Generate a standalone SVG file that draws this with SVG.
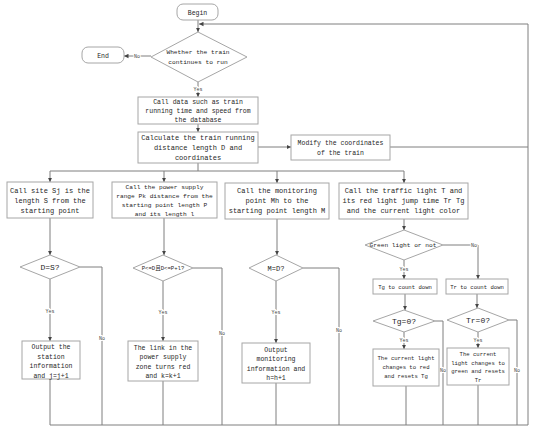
<svg xmlns="http://www.w3.org/2000/svg" width="534" height="433" viewBox="0 0 534 433">
<style>
.box{fill:#fff;stroke:#a6a6a6;stroke-width:1}
.rnd{fill:#fff;stroke:#a6a6a6;stroke-width:1}
.dia{fill:#fff;stroke:#a6a6a6;stroke-width:1}
.ln{fill:none;stroke:#7f7f7f;stroke-width:1}
.arr{marker-end:url(#ah)}
text{font-family:"Liberation Mono","Noto Sans CJK SC",monospace;fill:#262626;text-anchor:middle}
.t7{font-size:7px}
.t65{font-size:6.5px}
.t6{font-size:6.2px}
.t56{font-size:5.6px}
.t8{font-size:8px}
.lb{font-size:5px;fill:#444;stroke:#fff;stroke-width:2;paint-order:stroke}
</style>
<defs>
<marker id="ah" markerWidth="5" markerHeight="5" refX="4.5" refY="2.5" orient="auto" markerUnits="userSpaceOnUse">
<path d="M0,0.3 L4.5,2.5 L0,4.7 Z" fill="#444"/>
</marker>
</defs>
<rect width="534" height="433" fill="#fff"/>
<g id="connectors">
<path class="ln arr" d="M198,20 V32"/>
<path class="ln arr" d="M528,425 V24 H199"/>
<path class="ln arr" d="M151,56 H124"/>
<text class="lb" x="137" y="58">No</text>
<path class="ln arr" d="M198,82 V97"/>
<text class="lb" x="198" y="91">Yes</text>
<path class="ln arr" d="M198,124 V132"/>
<path class="ln arr" d="M258,147 H291"/>
<path class="ln" d="M390,147 H528"/>
<path class="ln" d="M198,163 V171"/>
<path class="ln" d="M50,171 H404"/>
<path class="ln arr" d="M50,171 V182"/>
<path class="ln arr" d="M164,171 V182"/>
<path class="ln arr" d="M277,171 V183"/>
<path class="ln arr" d="M404,171 V183"/>
<!-- branch 1 -->
<path class="ln arr" d="M50,218 V255"/>
<path class="ln" d="M80,267 H102 V425"/>
<text class="lb" x="102" y="340">No</text>
<path class="ln arr" d="M50,279 V341"/>
<text class="lb" x="50" y="313">Yes</text>
<path class="ln" d="M50,379 V425"/>
<!-- branch 2 -->
<path class="ln arr" d="M164,218 V255"/>
<path class="ln" d="M193,268 H222 V425"/>
<text class="lb" x="222" y="335">No</text>
<path class="ln arr" d="M163,281 V341"/>
<text class="lb" x="163" y="314">Yes</text>
<path class="ln" d="M163,381 V425"/>
<!-- branch 3 -->
<path class="ln arr" d="M277,219 V255"/>
<path class="ln" d="M303,268 H339 V425"/>
<text class="lb" x="339" y="332">No</text>
<path class="ln arr" d="M276,281 V343"/>
<text class="lb" x="276" y="314">Yes</text>
<path class="ln" d="M276,383 V425"/>
<!-- branch 4 -->
<path class="ln arr" d="M404,219 V230"/>
<path class="ln arr" d="M443,245 H478 V279"/>
<text class="lb" x="474" y="247">No</text>
<path class="ln arr" d="M404,260 V279"/>
<text class="lb" x="404" y="271">Yes</text>
<path class="ln arr" d="M405,294 V310"/>
<path class="ln" d="M435,321 H443 V425"/>
<text class="lb" x="443" y="372">No</text>
<path class="ln arr" d="M404,332 V349"/>
<text class="lb" x="404" y="342">Yes</text>
<path class="ln" d="M406,386 V425"/>
<path class="ln arr" d="M477,294 V308"/>
<path class="ln" d="M509,320 H517 V425"/>
<text class="lb" x="517" y="372">No</text>
<path class="ln arr" d="M478,332 V348"/>
<text class="lb" x="478" y="342">Yes</text>
<path class="ln" d="M478,385 V425"/>
<path class="ln" d="M50,425 H528"/>
</g>
<g id="begin">
<rect class="rnd" x="177" y="4" width="41" height="16" rx="6"/>
<text class="t65" x="197.5" y="14.5">Begin</text>
</g>
<g id="end">
<rect class="rnd" x="82" y="47" width="42" height="16" rx="6"/>
<text class="t65" x="103" y="57.5">End</text>
</g>
<g id="continue">
<polygon class="dia" points="198,32 247,57 198,82 151,57"/>
<text class="t6" x="198" y="54">Whether the train</text>
<text class="t6" x="198" y="64">continues to run</text>
</g>
<g id="calldata">
<rect class="box" x="138" y="97" width="120" height="27"/>
<text class="t65" x="198" y="103.5">Call data such as train</text>
<text class="t65" x="198" y="112.5">running time and speed from</text>
<text class="t65" x="198" y="121.5">the database</text>
</g>
<g id="calculate">
<rect class="box" x="138" y="132" width="120" height="31"/>
<text class="t7" x="198" y="140">Calculate the train running</text>
<text class="t7" x="198" y="150">distance length D and</text>
<text class="t7" x="198" y="160">coordinates</text>
</g>
<g id="modify">
<rect class="box" x="291" y="135" width="99" height="25"/>
<text class="t65" x="340.5" y="145">Modify the coordinates</text>
<text class="t65" x="340.5" y="155">of the train</text>
</g>
<g id="site">
<rect class="box" x="7" y="182" width="86" height="36"/>
<text class="t7" x="50" y="193">Call site Sj is the</text>
<text class="t7" x="50" y="203">length S from the</text>
<text class="t7" x="50" y="213">starting point</text>
</g>
<g id="power">
<rect class="box" x="112" y="182" width="105" height="36"/>
<text class="t6" x="164.5" y="189">Call the power supply</text>
<text class="t6" x="164.5" y="198">range Pk distance from the</text>
<text class="t6" x="164.5" y="207">starting point length P</text>
<text class="t6" x="164.5" y="216">and its length l</text>
</g>
<g id="monitor">
<rect class="box" x="225" y="183" width="104" height="36"/>
<text class="t7" x="277" y="193">Call the monitoring</text>
<text class="t7" x="277" y="203">point Mh to the</text>
<text class="t7" x="277" y="213">starting point length M</text>
</g>
<g id="traffic">
<rect class="box" x="339" y="183" width="129" height="36"/>
<text class="t7" x="403.5" y="193">Call the traffic light T and</text>
<text class="t7" x="403.5" y="203">its red light jump time Tr Tg</text>
<text class="t7" x="403.5" y="213">and the current light color</text>
</g>
<g id="ds">
<polygon class="dia" points="50,255 80,267 50,279 20,267"/>
<text class="t8" x="50" y="270">D=S?</text>
</g>
<g id="pd">
<polygon class="dia" points="163,255 193,268 163,281 133,268"/>
<text class="t56" x="163" y="270">P&lt;=D且D&lt;=P+l?</text>
</g>
<g id="md">
<polygon class="dia" points="276,255 303,268 276,281 249,268"/>
<text class="t7" x="276" y="270.5">M=D?</text>
</g>
<g id="green">
<polygon class="dia" points="404,230 443,245 404,260 365,245"/>
<text class="t6" x="403" y="247">Green light or not</text>
</g>
<g id="station">
<rect class="box" x="22" y="341" width="58" height="38"/>
<text class="t65" x="51" y="349">Output the</text>
<text class="t65" x="51" y="358.5">station</text>
<text class="t65" x="51" y="368">information</text>
<text class="t65" x="51" y="377.5">and j=j+1</text>
</g>
<g id="link">
<rect class="box" x="128" y="341" width="70" height="40"/>
<text class="t65" x="163" y="349.5">The link in the</text>
<text class="t65" x="163" y="359">power supply</text>
<text class="t65" x="163" y="368.5">zone turns red</text>
<text class="t65" x="163" y="378">and k=k+1</text>
</g>
<g id="outmon">
<rect class="box" x="242" y="343" width="68" height="40"/>
<text class="t65" x="276" y="351.5">Output</text>
<text class="t65" x="276" y="361">monitoring</text>
<text class="t65" x="276" y="370.5">information and</text>
<text class="t65" x="276" y="380">h=h+1</text>
</g>
<g id="tgcount">
<rect class="box" x="373" y="279" width="64" height="15"/>
<text class="t56" x="405" y="288.5">Tg to count down</text>
</g>
<g id="trcount">
<rect class="box" x="446" y="279" width="62" height="15"/>
<text class="t56" x="477" y="288.5">Tr to count down</text>
</g>
<g id="tg0">
<polygon class="dia" points="404,310 435,321 404,332 373,321"/>
<text class="t8" x="404" y="324">Tg=0?</text>
</g>
<g id="tr0">
<polygon class="dia" points="478,308 509,320 478,332 447,320"/>
<text class="t8" x="478" y="323">Tr=0?</text>
</g>
<g id="tored">
<rect class="box" x="373" y="349" width="66" height="37"/>
<text class="t56" x="406" y="360">The current light</text>
<text class="t56" x="406" y="369">changes to red</text>
<text class="t56" x="406" y="378">and resets Tg</text>
</g>
<g id="togreen">
<rect class="box" x="447" y="348" width="62" height="37"/>
<text class="t56" x="478" y="356">The current</text>
<text class="t56" x="478" y="364.5">light changes to</text>
<text class="t56" x="478" y="373">green and resets</text>
<text class="t56" x="478" y="381.5">Tr</text>
</g>
</svg>
